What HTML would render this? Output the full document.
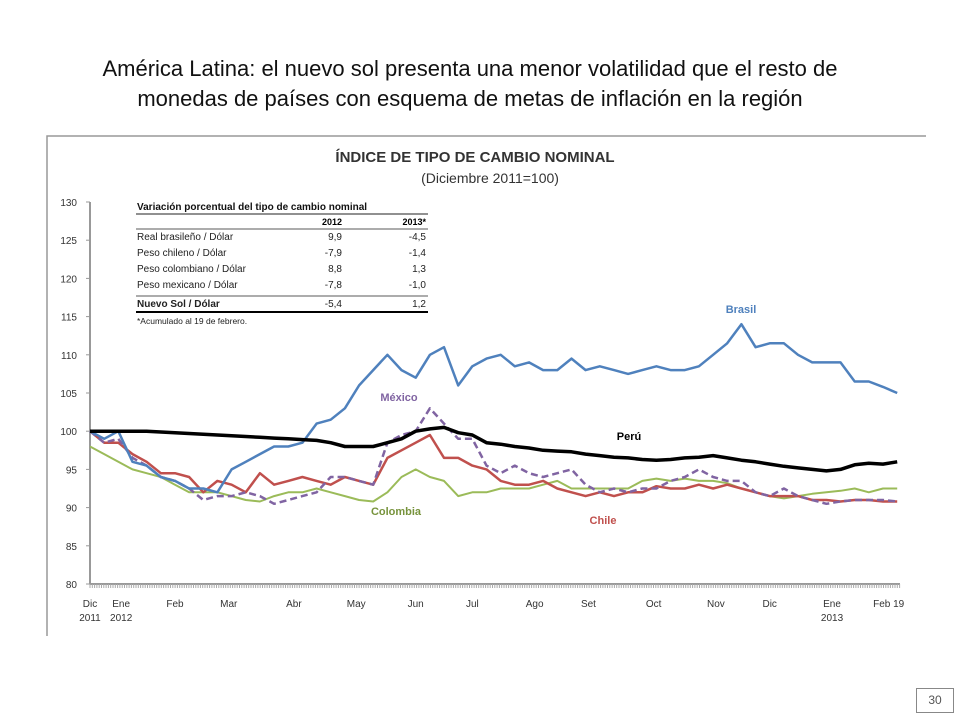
<!DOCTYPE html>
<html><head><meta charset="utf-8">
<style>
body{margin:0;width:960px;height:720px;background:#fff;overflow:hidden;font-family:"Liberation Sans",sans-serif;}
#title{position:absolute;left:0;top:54px;width:940px;text-align:center;font-size:22px;line-height:30px;color:#111;}
#pg{position:absolute;left:916px;top:688px;width:36px;height:23px;border:1px solid #888;font-size:12px;text-align:center;line-height:23px;color:#555;}
svg{position:absolute;left:0;top:0;}
</style></head><body>
<div id="title">América Latina: el nuevo sol presenta una menor volatilidad que el resto de<br>monedas de países con esquema de metas de inflación en la región</div>
<div id="pg">30</div>
<svg id="chart" width="960" height="720"></svg>
<script>
const tVals=[0,0.25,0.5,0.75,1,1.25,1.5,1.75,2,2.25,2.5,2.75,3,3.25,3.5,3.75,4,4.25,4.5,4.75,5,5.25,5.5,5.75,6,6.25,6.5,6.75,7,7.25,7.5,7.75,8,8.25,8.5,8.75,9,9.25,9.5,9.75,10,10.25,10.5,10.75,11,11.25,11.5,11.75,12,12.25,12.5,12.75,13,13.25,13.5,13.75,14,14.25];
const brasil=[100,99,100,96,95.5,94,93.5,92.5,92.5,92,95,96,97,98,98,98.5,101,101.5,103,106,108,110,108,107,110,111,106,108.5,109.5,110,108.5,109,108,108,109.5,108,108.5,108,107.5,108,108.5,108,108,108.5,110,111.5,114,111,111.5,111.5,110,109,109,109,106.5,106.5,105.8,105];
const peru=[100,100,100,100,100,99.9,99.8,99.7,99.6,99.5,99.4,99.3,99.2,99.1,99,98.9,98.8,98.5,98,98,98,98.5,99,100,100.3,100.5,99.8,99.5,98.5,98.3,98,97.8,97.5,97.4,97.3,97,96.8,96.6,96.5,96.3,96.2,96.3,96.5,96.6,96.8,96.5,96.2,96,95.7,95.4,95.2,95,94.8,95,95.6,95.8,95.7,96];
const chile=[100,98.5,98.5,97,96,94.5,94.5,94,92,93.5,93,92,94.5,93,93.5,94,93.5,93,94,93.5,93,96.5,97.5,98.5,99.5,96.5,96.5,95.5,95,93.5,93,93,93.5,92.5,92,91.5,92,91.5,92,92,92.8,92.5,92.5,93,92.5,93,92.5,92,91.5,91.5,91.5,91,91,90.8,91,91,90.8,90.8];
const mexico=[100,98.5,99,96.5,95.5,94,93.5,92.5,91,91.5,91.5,92,91.5,90.5,91,91.5,92,94,94,93.5,93,98.5,99.5,100,103,101,99,99,95.5,94.5,95.5,94.5,94,94.5,95,93,92,92.5,92,92.5,92.5,93.5,94,95,94,93.5,93.5,92,91.5,92.5,91.5,91,90.5,90.8,91,91,91,90.8];
const colombia=[98,97,96,95,94.5,94,93,92,92,92,91.5,91,90.8,91.5,92,92,92.5,92,91.5,91,90.8,92,94,95,94,93.5,91.5,92,92,92.5,92.5,92.5,93,93.5,92.5,92.5,92.5,92.5,92.5,93.5,93.8,93.5,93.8,93.5,93.5,93.2,92.5,92,91.5,91.2,91.5,91.8,92,92.2,92.5,92,92.5,92.5];
const yTicks=[80,85,90,95,100,105,110,115,120,125,130];
const xTickVals=[0,0.55,1.5,2.45,3.6,4.7,5.75,6.75,7.85,8.8,9.95,11.05,12,13.1,14.1];
const xLabels1=["Dic","Ene","Feb","Mar","Abr","May","Jun","Jul","Ago","Set","Oct","Nov","Dic","Ene","Feb 19"];
const xLabels2=["2011","2012","","","","","","","","","","","","2013",""];

const svg=document.getElementById('chart');const NS='http://www.w3.org/2000/svg';
const X0=90,X1=900,Y0=584,Y1=202;
const xs=t=>X0+t/14.3*(X1-X0);
const ys=v=>Y0-(v-80)/50*(Y0-Y1);
function mk(tag,at,txt){const e=document.createElementNS(NS,tag);for(const k in at)e.setAttribute(k,at[k]);if(txt!==undefined)e.textContent=txt;svg.appendChild(e);return e;}
let e;
e=mk('path',{d:'M47,636 L47,136 L926,136',fill:'none',stroke:'#999','stroke-width':1.5});


e=mk('text',{x:475,y:162,'text-anchor':'middle','font-size':15,'font-weight':'bold',fill:'#333'},'ÍNDICE DE TIPO DE CAMBIO NOMINAL');


e=mk('text',{x:490,y:183,'text-anchor':'middle','font-size':14,fill:'#333'},'(Diciembre 2011=100)');


e=mk('line',{x1:X0,y1:Y1,x2:X0,y2:Y0,stroke:'#999','stroke-width':2});


e=mk('line',{x1:X0,y1:Y0,x2:X1,y2:Y0,stroke:'#999','stroke-width':2});


for(let x=X0;x<=X1;x+=2.3){e=mk('line',{x1:x,y1:Y0,x2:x,y2:Y0+4,stroke:'#aaa','stroke-width':1});

}
yTicks.forEach(v=>{
e=mk('line',{x1:X0-4,y1:ys(v),x2:X0,y2:ys(v),stroke:'#999'});


e=mk('text',{x:77,y:ys(v)+4,'text-anchor':'end','font-size':10,fill:'#333'},v);

});
xTickVals.forEach((t,i)=>{
e=mk('text',{x:xs(t),y:607,'text-anchor':'middle','font-size':10,fill:'#333'},xLabels1[i]);


if(xLabels2[i]){e=mk('text',{x:xs(t),y:621,'text-anchor':'middle','font-size':10,fill:'#333'},xLabels2[i]);

}});
function line(vals,color,w,dash,name){const d=vals.map((v,i)=>(i?'L':'M')+xs(tVals[i]).toFixed(1)+','+ys(v).toFixed(1)).join(' ');
const p=mk('path',{d:d,fill:'none',stroke:color,'stroke-width':w,'stroke-linejoin':'round'});if(dash)p.setAttribute('stroke-dasharray',dash);

}
line(colombia,'#9bbb59',2,null,'colombia-line');
line(chile,'#c0504d',2.5,null,'chile-line');
line(mexico,'#8064a2',2.5,'7,4','mexico-line');
line(brasil,'#4f81bd',2.5,null,'brasil-line');
line(peru,'#000',3.5,null,'peru-line');
[['Brasil',741,313,'#4f81bd'],['México',399,401,'#8064a2'],['Perú',629,440,'#000'],['Colombia',396,515,'#77933c'],['Chile',603,524,'#c0504d']].forEach(a=>{
e=mk('text',{x:a[1],y:a[2],'text-anchor':'middle','font-size':11,'font-weight':'bold',fill:a[3]},a[0]);

});
// table
e=mk('text',{x:137,y:210,'font-size':10,'font-weight':'bold',fill:'#111'},'Variación porcentual del tipo de cambio nominal');


e=mk('line',{x1:136,y1:214,x2:428,y2:214,stroke:'#222',"stroke-width":1});


e=mk('text',{x:342,y:225,'text-anchor':'end','font-size':9,'font-weight':'bold'},'2012');


e=mk('text',{x:426,y:225,'text-anchor':'end','font-size':9,'font-weight':'bold'},'2013*');


e=mk('line',{x1:136,y1:229,x2:428,y2:229,stroke:'#222',"stroke-width":0.8});


[['Real brasileño / Dólar','9,9','-4,5',240],['Peso chileno / Dólar','-7,9','-1,4',256],['Peso colombiano / Dólar','8,8','1,3',272],['Peso mexicano / Dólar','-7,8','-1,0',288],['Nuevo Sol / Dólar','-5,4','1,2',307]].forEach((r,i)=>{
const b=i==4?'bold':'normal';
e=mk('text',{x:137,y:r[3],'font-size':10,'font-weight':b,fill:'#222'},r[0]);


e=mk('text',{x:342,y:r[3],'text-anchor':'end','font-size':10,fill:'#222'},r[1]);


e=mk('text',{x:426,y:r[3],'text-anchor':'end','font-size':10,fill:'#222'},r[2]);

});
e=mk('line',{x1:136,y1:296,x2:428,y2:296,stroke:'#222',"stroke-width":0.8});


e=mk('line',{x1:136,y1:312,x2:428,y2:312,stroke:'#000',"stroke-width":2});


e=mk('text',{x:137,y:324,'font-size':8.5,fill:'#222'},'*Acumulado al 19 de febrero.');


</script>
</body></html>
